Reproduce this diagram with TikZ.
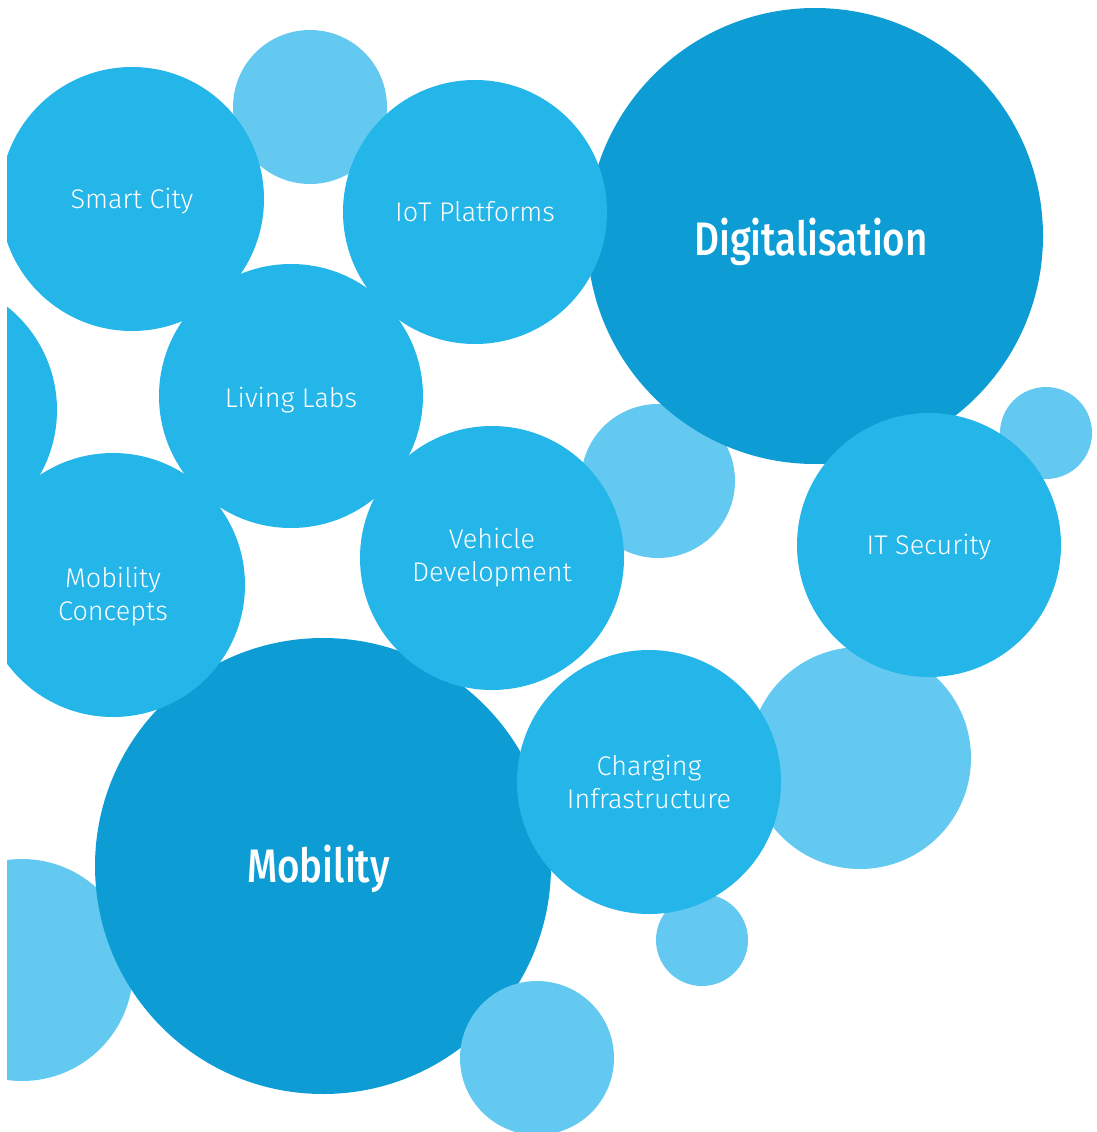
\documentclass[tikz,border=0pt]{standalone}
\usepackage{fontspec}
\setmainfont{Fira Sans Light}
\newfontfamily\headfont{Fira Sans Medium}
\definecolor{darkblue}{HTML}{0D9DD4}
\definecolor{midblue}{HTML}{24B5E9}
\definecolor{lightblue}{HTML}{63C9F0}
\newcommand{\dropby}[2]{\raisebox{-#1}[\height][\depth]{#2}}
\tikzset{
  bubble/.style={circle, inner sep=0pt, text=white, align=center},
  bigbubble/.style={bubble, fill=darkblue, minimum size=456pt, font=\headfont\fontsize{47}{56}\selectfont},
  topicbubble/.style={bubble, fill=midblue, minimum size=264pt, font=\fontsize{27}{33}\selectfont},
  dotbubble/.style={bubble, fill=lightblue},
}

\begin{document}
\begin{tikzpicture}[x=1pt, y=-1pt]
\useasboundingbox (0,0) rectangle (1097,1132);
\clip (7,0) rectangle (1097,1132);

% small dots behind everything
\node[dotbubble, minimum size=154pt] (dot-top) at (310,107) {};
\node[dotbubble, minimum size=92pt] (dot-right) at (1046,433) {};
\node[dotbubble, minimum size=154pt] (dot-mid) at (658,481) {};
\node[dotbubble, minimum size=222pt] (dot-east) at (860,758) {};
\node[dotbubble, minimum size=92pt] (dot-south) at (702,940) {};
\node[dotbubble, minimum size=222pt] (dot-west) at (22,970) {};

% main topics
\node[bigbubble] (digital) at (815,236) {\dropby{6pt}{\scalebox{0.82}[1]{Digitalisation}}\hspace{8pt}};
\node[bigbubble] (mobility) at (323,866) {\dropby{3pt}{\scalebox{0.82}[1]{Mobility}}\hspace{9pt}};

% sub topics
\node[topicbubble] (edge) at (-75,410) {};
\node[topicbubble] (smartcity) at (132,199) {\dropby{2pt}{Smart City}};
\node[topicbubble] (iot) at (475,212) {IoT Platforms};
\node[topicbubble] (livinglabs) at (291,396) {\dropby{4pt}{Living Labs}};
\node[topicbubble] (vehicle) at (492,558) {Vehicle\\Development};
\node[topicbubble] (concepts) at (113,585) {\dropby{12pt}{Mobility}\\\dropby{12pt}{Concepts}};
\node[topicbubble] (security) at (929,545) {\dropby{2pt}{IT Security}};
\node[topicbubble] (charging) at (649,782) {Charging\\Infrastructure};

% dot in front of mobility
\node[dotbubble, minimum size=154pt] (dot-bottom) at (537,1058) {};
\end{tikzpicture}
\end{document}
